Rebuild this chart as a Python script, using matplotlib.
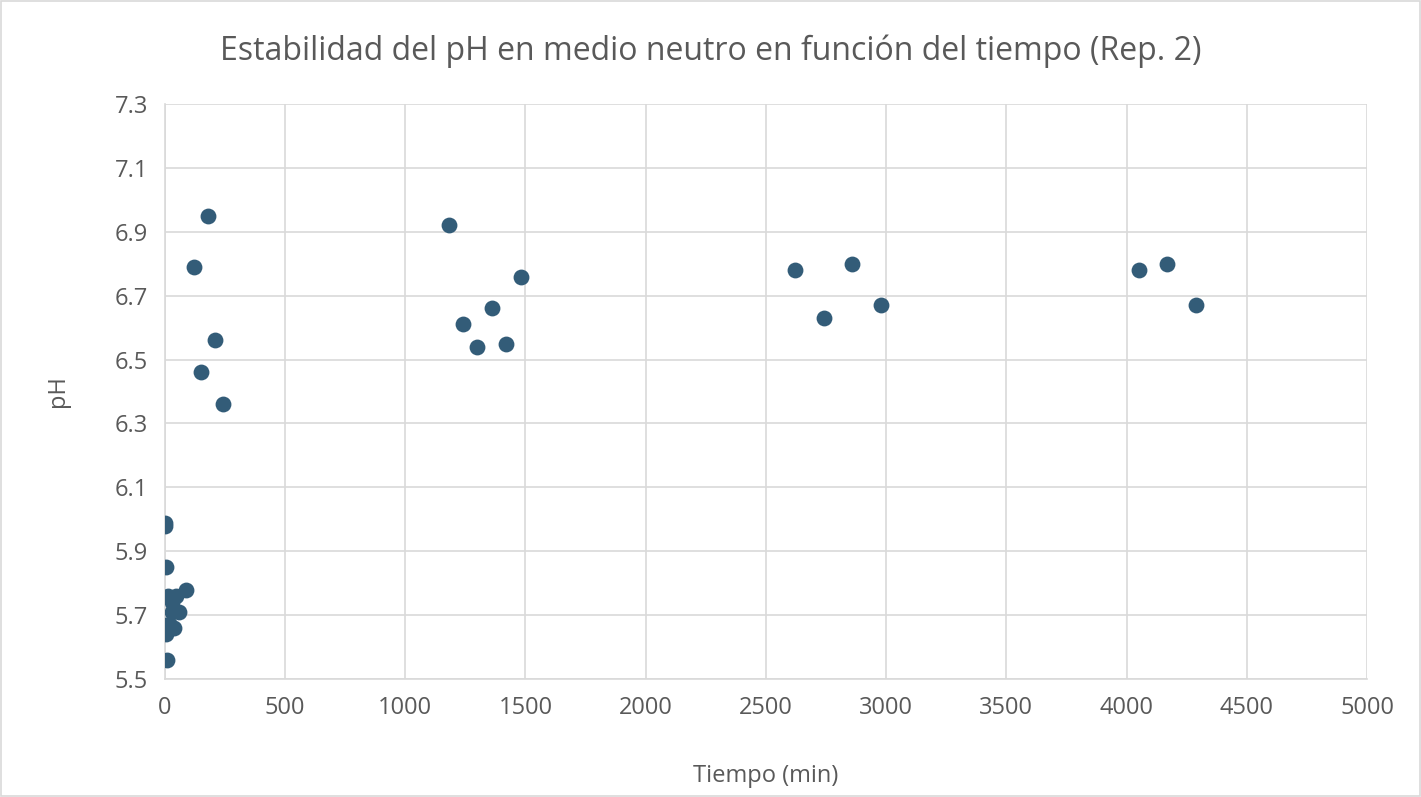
import matplotlib
matplotlib.use("Agg")
import matplotlib.pyplot as plt

plt.rcParams["font.family"] = ["Open Sans", "DejaVu Sans"]

# pH readings over time (min)
tiempo_inicial = [0, 2, 5, 15, 30, 45, 90, 30, 60, 5, 20, 40, 5, 10]
ph_inicial = [5.99, 5.98, 5.85, 5.76, 5.74, 5.76, 5.78, 5.71, 5.71, 5.67, 5.67, 5.66, 5.64, 5.56]

tiempo_horas = [120, 150, 180, 210, 240]
ph_horas = [6.79, 6.46, 6.95, 6.56, 6.36]

tiempo_dia1 = [1180, 1240, 1300, 1360, 1420, 1480]
ph_dia1 = [6.92, 6.61, 6.54, 6.66, 6.55, 6.76]

tiempo_dia2 = [2620, 2740, 2860, 2980]
ph_dia2 = [6.78, 6.63, 6.80, 6.67]

tiempo_dia3 = [4050, 4170, 4290]
ph_dia3 = [6.78, 6.80, 6.67]

tiempo = tiempo_inicial + tiempo_horas + tiempo_dia1 + tiempo_dia2 + tiempo_dia3
ph = ph_inicial + ph_horas + ph_dia1 + ph_dia2 + ph_dia3

fig = plt.figure(figsize=(14.21, 7.97), dpi=100)
ax = fig.add_axes([0.116, 0.148, 0.846, 0.7215])

ax.scatter(tiempo, ph, s=130, color="#335C78", zorder=3, linewidths=0)

ax.set_xlim(0, 5000)
ax.set_ylim(5.5, 7.3)
ax.set_xticks(range(0, 5001, 500))
ax.set_yticks([5.5 + 0.2 * i for i in range(10)])
ax.set_yticklabels([f"{5.5 + 0.2 * i:.1f}" for i in range(10)])
ax.grid(True, color="#D9D9D9", linewidth=1.2)
ax.set_axisbelow(True)
for side in ["top", "right"]:
    ax.spines[side].set_visible(False)
for side in ["left", "bottom"]:
    ax.spines[side].set_color("#D9D9D9")
    ax.spines[side].set_linewidth(1.2)
ax.tick_params(length=0, labelsize=17, labelcolor="#595959", pad=12)

ax.set_xlabel("Tiempo (min)", fontsize=17, color="#595959", labelpad=32)
ax.set_ylabel("pH", fontsize=17, color="#595959", labelpad=32)
fig.text(0.5, 0.936, "Estabilidad del pH en medio neutro en función del tiempo (Rep. 2)",
         fontsize=23, color="#595959", ha="center", va="center")

fig.patches.append(plt.Rectangle((0.001, 0.001), 0.998, 0.998, transform=fig.transFigure,
                                 fill=False, edgecolor="#D9D9D9", linewidth=1.2))

fig.savefig("out.png", dpi=100)
